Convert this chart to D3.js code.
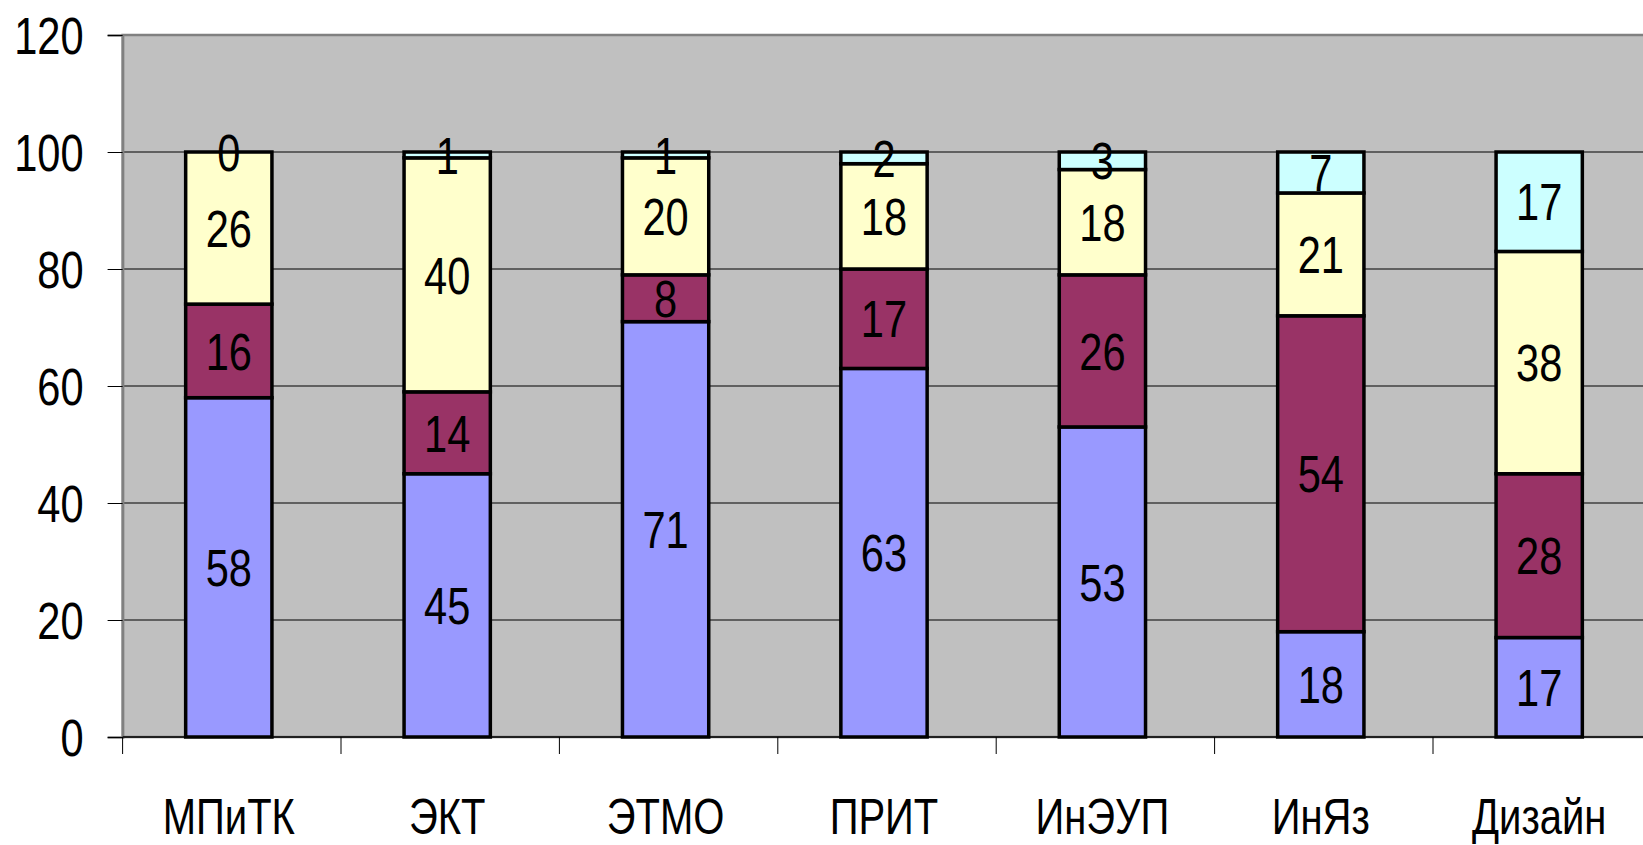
<!DOCTYPE html>
<html><head><meta charset="utf-8">
<script src="https://cdn.jsdelivr.net/npm/d3@7"></script>
<style>
html,body{margin:0;padding:0;background:#fff;}
svg{display:block;}
text{font-family:"Liberation Sans","Arial",sans-serif;fill:#000;}
</style></head>
<body>
<svg id="chart" width="1643" height="845"></svg>
<script>
const categories = ["МПиТК","ЭКТ","ЭТМО","ПРИТ","ИнЭУП","ИнЯз","Дизайн"];
const series1 = [58,45,71,63,53,18,17];
const series2 = [16,14,8,17,26,54,28];
const series3 = [26,40,20,18,18,21,38];
const series4 = [0,1,1,2,3,7,17];
const seriesKeys = ["s1","s2","s3","s4"];
const seriesColors = ["#9999FF","#993366","#FFFFCC","#CCFFFF"];
const yTicks = [0,20,40,60,80,100,120];

const rows = categories.map((c,i)=>({cat:c,s1:series1[i],s2:series2[i],s3:series3[i],s4:series4[i]}));
const stacked = d3.stack().keys(seriesKeys)(rows);

const NARROW = 0.8;
const svg = d3.select("#chart");
const mLeft = 122.6, mRight = 122.6 + 7*218.4, mTop = 35, mBottom = 737;
const xb = d3.scaleBand().domain(categories).range([mLeft,mRight]).padding(0);
const x = d3.scaleBand().domain(categories).range([mLeft-3,mRight-3]).paddingInner(0.605).paddingOuter(0.3025);
const y = d3.scaleLinear().domain([0,120]).range([mBottom,mTop]);

// plot area
svg.append("rect").attr("x",mLeft).attr("y",mTop).attr("width",mRight-mLeft).attr("height",mBottom-mTop)
  .attr("fill","#C0C0C0").attr("stroke","#808080").attr("stroke-width",2.5);

// gridlines
svg.append("g").selectAll("line").data(yTicks.filter(t=>t>0 && t<120)).join("line")
  .attr("x1",mLeft).attr("x2",mRight).attr("y1",d=>y(d)).attr("y2",d=>y(d))
  .attr("stroke","#000").attr("stroke-width",1);

// y axis
const yAxis = svg.append("g").attr("transform",`translate(${mLeft},0)`)
  .call(d3.axisLeft(y).tickValues(yTicks).tickSize(15).tickPadding(24).tickFormat(d3.format("d")));
yAxis.select(".domain").attr("stroke","#808080").attr("stroke-width",2.5);
yAxis.selectAll(".tick line").attr("stroke","#000");
yAxis.selectAll("text").attr("font-size",52).attr("dy","0.36em")
  .attr("x",0).attr("transform",`translate(-39,0) scale(${NARROW},1)`);

// bars
svg.append("g").selectAll("g").data(stacked).join("g")
  .attr("fill",(d,i)=>seriesColors[i])
  .selectAll("rect").data(d=>d).join("rect")
  .attr("x",d=>x(d.data.cat)).attr("width",x.bandwidth())
  .attr("y",d=>y(d[1])).attr("height",d=>y(d[0])-y(d[1]))
  .attr("stroke","#000").attr("stroke-width",3.5);

// x axis
const xAxisG = svg.append("g").attr("transform",`translate(0,${mBottom})`);
xAxisG.append("line").attr("x1",mLeft).attr("x2",mRight).attr("stroke","#000").attr("stroke-width",1.5);
const bounds = categories.map(c=>xb(c)).concat([mRight]);
xAxisG.selectAll("line.tk").data(bounds).join("line").attr("class","tk")
  .attr("x1",d=>d).attr("x2",d=>d).attr("y1",0).attr("y2",17).attr("stroke","#000");
xAxisG.selectAll("text").data(categories).join("text")
  .attr("transform",d=>`translate(${x(d)+x.bandwidth()/2},97) scale(${NARROW},1)`)
  .attr("text-anchor","middle").attr("font-size",50).text(d=>d);

// labels
svg.append("g").selectAll("g").data(stacked).join("g")
  .selectAll("text").data(d=>d).join("text")
  .attr("transform",d=>`translate(${x(d.data.cat)+x.bandwidth()/2},${(y(d[0])+y(d[1]))/2}) scale(${NARROW},1)`)
  .attr("dy","0.36em")
  .attr("text-anchor","middle").attr("font-size",52)
  .text(d=>d[1]-d[0]);
</script>
</body></html>
